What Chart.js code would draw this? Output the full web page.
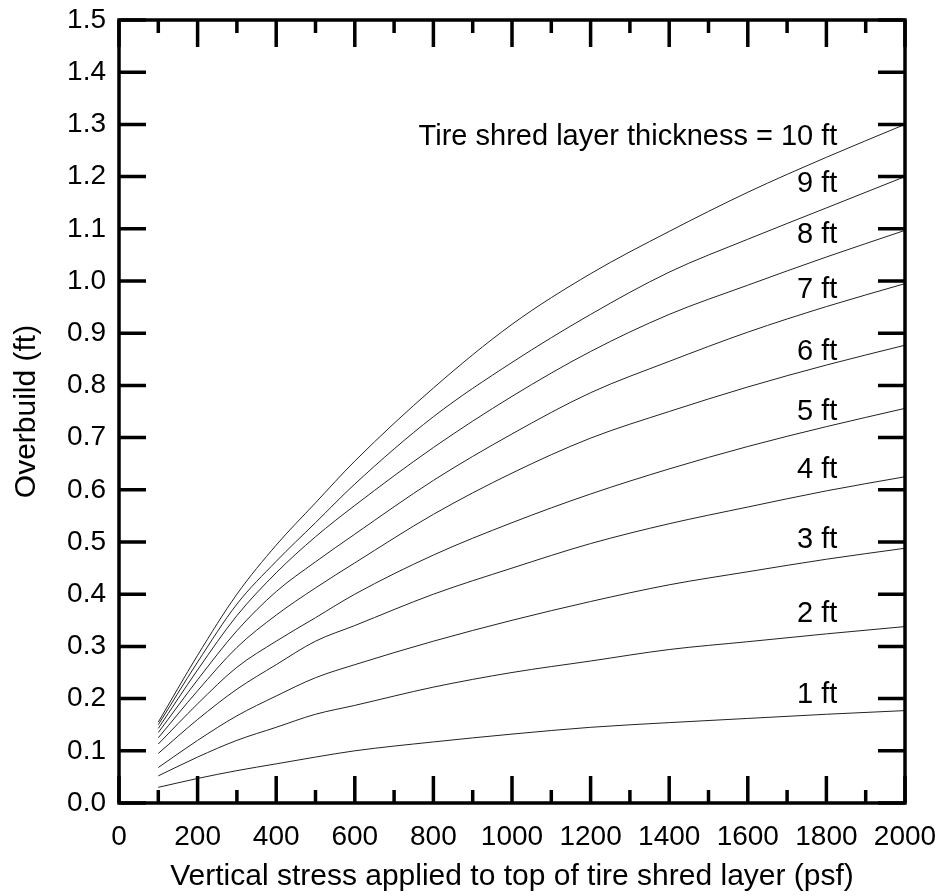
<!DOCTYPE html>
<html>
<head>
<meta charset="utf-8">
<title>Overbuild vs vertical stress</title>
<script src="https://cdn.jsdelivr.net/npm/chart.js@4.4.1/dist/chart.umd.min.js"></script>
<style>
  html, body { margin: 0; padding: 0; background: #fff; }
  canvas { display: block; }
</style>
</head>
<body>
<canvas id="overbuildChart" width="943" height="896"></canvas>
<script>
// Vertical stress on top of the tire shred layer (psf)
const stress = [100, 200, 300, 400, 500, 600, 800, 1000, 1200, 1400, 1600, 1800, 2000];

// Overbuild (ft) for each layer thickness
const ft1  = [0.030, 0.047, 0.062, 0.075, 0.088, 0.100, 0.117, 0.132, 0.145, 0.154, 0.162, 0.170, 0.177];
const ft2  = [0.052, 0.088, 0.120, 0.145, 0.170, 0.187, 0.222, 0.250, 0.272, 0.294, 0.309, 0.324, 0.338];
const ft3  = [0.068, 0.120, 0.167, 0.205, 0.240, 0.265, 0.310, 0.350, 0.386, 0.418, 0.443, 0.467, 0.488];
const ft4  = [0.095, 0.160, 0.218, 0.265, 0.310, 0.340, 0.400, 0.450, 0.497, 0.535, 0.567, 0.598, 0.625];
const ft5  = [0.113, 0.190, 0.260, 0.310, 0.355, 0.400, 0.475, 0.537, 0.592, 0.640, 0.683, 0.721, 0.756];
const ft6  = [0.125, 0.215, 0.298, 0.360, 0.412, 0.460, 0.553, 0.632, 0.699, 0.750, 0.797, 0.839, 0.877];
const ft7  = [0.135, 0.236, 0.330, 0.405, 0.462, 0.515, 0.618, 0.707, 0.786, 0.846, 0.902, 0.951, 0.995];
const ft8  = [0.143, 0.255, 0.359, 0.441, 0.510, 0.570, 0.681, 0.779, 0.865, 0.936, 0.992, 1.046, 1.097];
const ft9  = [0.150, 0.270, 0.381, 0.463, 0.537, 0.611, 0.740, 0.844, 0.936, 1.017, 1.080, 1.140, 1.200];
const ft10 = [0.155, 0.283, 0.400, 0.494, 0.575, 0.655, 0.795, 0.917, 1.014, 1.095, 1.170, 1.237, 1.300];

const thicknessLabels = ['1 ft', '2 ft', '3 ft', '4 ft', '5 ft', '6 ft', '7 ft', '8 ft', '9 ft',
  'Tire shred layer thickness = 10 ft'];

// Axis ticks
const xTicks = [0, 200, 400, 600, 800, 1000, 1200, 1400, 1600, 1800, 2000];
const yTicks = ['0.0', '0.1', '0.2', '0.3', '0.4', '0.5', '0.6', '0.7', '0.8', '0.9',
  '1.0', '1.1', '1.2', '1.3', '1.4', '1.5'];

const series = [ft1, ft2, ft3, ft4, ft5, ft6, ft7, ft8, ft9, ft10];

const FONT = '"Liberation Sans", Arial, sans-serif';
Chart.defaults.font.family = FONT;
Chart.defaults.font.size = 28;
Chart.defaults.color = '#000';

function makeCurve(values, i) {
  return {
    label: thicknessLabels[i],
    data: values.map((v, k) => ({ x: stress[k], y: v })),
    borderColor: '#222',
    borderWidth: 1,
    pointRadius: 0,
    fill: false,
    cubicInterpolationMode: 'monotone'
  };
}

// Box frame with inward ticks on all four sides, plus curve labels
const frameAndLabels = {
  id: 'frameAndLabels',
  afterDatasetsDraw(chart, args, opts) {
    const { ctx, chartArea: a, scales: { x, y } } = chart;
    ctx.save();
    ctx.strokeStyle = '#000';
    ctx.lineWidth = 3.5;
    ctx.lineCap = 'butt';
    ctx.beginPath();

    xTicks.forEach((v, i) => {
      const px = x.getPixelForValue(v);
      ctx.moveTo(px, a.bottom); ctx.lineTo(px, a.bottom - 27);
      ctx.moveTo(px, a.top); ctx.lineTo(px, a.top + 27);
      if (i < xTicks.length - 1) {
        const mx = x.getPixelForValue((v + xTicks[i + 1]) / 2);
        ctx.moveTo(mx, a.bottom); ctx.lineTo(mx, a.bottom - 13);
        ctx.moveTo(mx, a.top); ctx.lineTo(mx, a.top + 13);
      }
    });
    yTicks.forEach(t => {
      const py = y.getPixelForValue(parseFloat(t));
      ctx.moveTo(a.left, py); ctx.lineTo(a.left + 27, py);
      ctx.moveTo(a.right, py); ctx.lineTo(a.right - 27, py);
    });
    ctx.stroke();
    ctx.strokeRect(a.left, a.top, a.right - a.left, a.bottom - a.top);

    ctx.fillStyle = '#000';
    ctx.font = '29px ' + FONT;
    ctx.textAlign = 'right';
    ctx.textBaseline = 'alphabetic';
    opts.baselines.forEach((b, i) => {
      ctx.fillText(thicknessLabels[i], x.getPixelForValue(opts.labelX), y.getPixelForValue(b));
    });
    ctx.restore();
  }
};

new Chart(document.getElementById('overbuildChart'), {
  type: 'line',
  data: { datasets: series.map(makeCurve) },
  options: {
    responsive: false,
    animation: false,
    layout: { padding: { left: 0, right: 38, top: 20, bottom: 0 } },
    scales: {
      x: {
        type: 'linear',
        min: 0,
        max: 2000,
        afterBuildTicks: s => { s.ticks = xTicks.map(v => ({ value: v })); },
        afterFit: s => { s.height = 93; s.paddingLeft = 0; s.paddingRight = 0; },
        grid: { display: false, drawTicks: false },
        border: { display: false },
        ticks: { padding: 17, maxRotation: 0, autoSkip: false, callback: v => String(v) },
        title: {
          display: true,
          text: 'Vertical stress applied to top of tire shred layer (psf)',
          font: { size: 30 },
          padding: { top: 0, bottom: 1.5 }
        }
      },
      y: {
        type: 'linear',
        min: 0,
        max: 1.5,
        afterBuildTicks: s => { s.ticks = yTicks.map(t => ({ value: parseFloat(t) })); },
        afterFit: s => { s.width = 119; s.paddingTop = 0; s.paddingBottom = 0; },
        grid: { display: false, drawTicks: false },
        border: { display: false },
        ticks: { padding: 13, autoSkip: false, callback: v => yTicks.find(t => parseFloat(t) === v) },
        title: {
          display: true,
          text: 'Overbuild (ft)',
          font: { size: 30 },
          padding: { top: 9, bottom: 0 }
        }
      }
    },
    plugins: {
      legend: { display: false },
      tooltip: { enabled: false },
      frameAndLabels: {
        labelX: 1828,
        baselines: [0.191, 0.346, 0.488, 0.622, 0.734, 0.849, 0.967, 1.073, 1.170, 1.260]
      }
    }
  },
  plugins: [frameAndLabels]
});
</script>
</body>
</html>
